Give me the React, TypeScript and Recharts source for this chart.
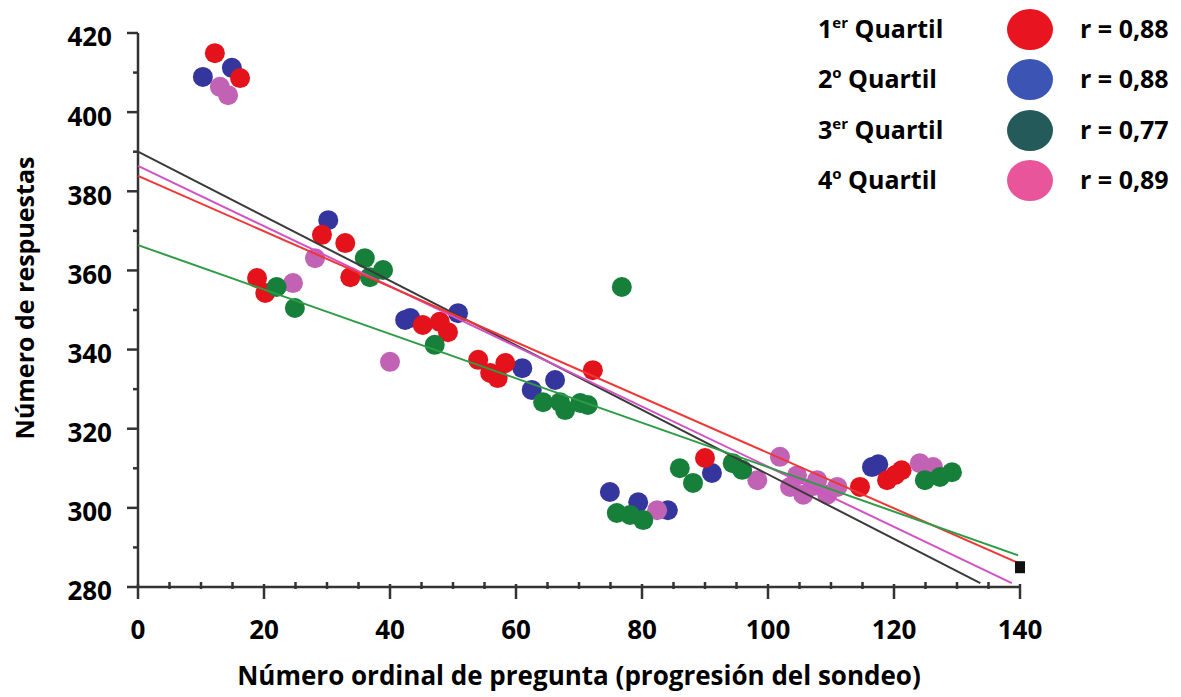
import React from 'react';
import { ScatterChart, Scatter, XAxis, YAxis } from 'recharts';

// points: [question number, responses]
const q1Points = [
  [12.2, 414.9], [16.2, 408.6], [18.9, 358.1], [20.2, 354.3], [29.2, 369], [32.9, 366.9],
  [33.7, 358.3], [45.2, 346.2], [47.9, 347], [49.2, 344.4], [54, 337.4], [55.9, 334.1],
  [57.1, 332.8], [58.3, 336.6], [72.2, 334.8], [90, 312.6], [114.6, 305.3], [118.9, 307],
  [120.2, 308.3], [121.2, 309.5],
];
const q2Points = [
  [10.3, 408.9], [14.9, 411.2], [30.2, 372.7], [42.4, 347.5], [43.2, 348], [50.8, 349.2],
  [61, 335.3], [62.5, 329.8], [66.2, 332.3], [74.9, 304], [79.4, 301.4], [84.1, 299.4],
  [91.1, 308.8], [116.5, 310.3], [117.5, 311],
];
const q3Points = [
  [22, 355.8], [24.9, 350.5], [36, 363.1], [36.8, 358.3], [38.9, 360.1], [47.1, 341.2],
  [64.3, 326.7], [67, 326.7], [67.8, 324.7], [70.2, 326.5], [71.4, 326], [76.8, 355.8],
  [76, 298.7], [78.1, 298.2], [80.2, 296.9], [86, 310], [88.1, 306.3], [94.4, 311.3],
  [95.9, 309.6], [124.9, 307], [127.3, 307.8], [129.2, 309],
];
const q4Points = [
  [13, 406.4], [14.3, 404.3], [24.6, 356.8], [28.1, 363.1], [40, 336.9], [82.4, 299.4],
  [98.3, 307], [101.9, 312.9], [103.5, 305.3], [104.6, 308.2], [105.6, 303.3], [107.2, 305.5],
  [107.8, 307], [109.4, 303.3], [111, 305.3], [124.1, 311.3], [126.2, 310.3],
];

// regression lines, start and end points
const blackFit = [[0, 390], [133.7, 281]];
const pinkFit = [[0, 386.4], [138.7, 281]];
const redFit = [[0, 383.9], [139.7, 286.1]];
const greenFit = [[0, 366.4], [139.7, 288]];
const endMarker = [[140, 285]];

const xTicks = [0, 5, 10, 15, 20, 25, 30, 35, 40, 45, 50, 55, 60, 65, 70, 75, 80, 85, 90, 95, 100, 105, 110, 115, 120, 125, 130, 135, 140];
const xMajor = [0, 20, 40, 60, 80, 100, 120, 140];
const yTicks = [280, 290, 300, 310, 320, 330, 340, 350, 360, 370, 380, 390, 400, 410, 420];
const yMajor = [280, 300, 320, 340, 360, 380, 400, 420];

const legendNums = ['1', '2', '3', '4'];
const legendSup = ['er', 'o', 'er', 'o'];
const legendR = ['0,88', '0,88', '0,77', '0,89'];
const legendColors = ['#e8141f', '#3c55b5', '#245a5a', '#e9559b'];

const toXY = (pts: number[][]) => pts.map(([x, y]) => ({ x, y }));

const FONT = '"Open Sans", sans-serif';
const AXIS = '#333';

const dot = (color: string) => (props: any) => (
  <circle cx={props.cx} cy={props.cy} r={10} fill={color} />
);
const noDot = () => <g />;

const XTick = (props: any) => {
  const { x, y, payload } = props;
  const major = xMajor.includes(payload.value);
  return (
    <g>
      <line x1={x} x2={x} y1={major ? y - 3 : y - 5} y2={major ? y + 12 : y + 2} stroke={AXIS} strokeWidth={2.5} />
      {major && (
        <text x={x} y={y + 43} dy="0.36em" textAnchor="middle" fontSize={26} fontWeight={700} fontFamily={FONT} fill="#000">
          {payload.value}
        </text>
      )}
    </g>
  );
};

const YTick = (props: any) => {
  const { x, y, payload } = props;
  const major = yMajor.includes(payload.value);
  return (
    <g>
      <line x1={major ? x - 11 : x - 5} x2={x} y1={y} y2={y} stroke={AXIS} strokeWidth={2.5} />
      {major && (
        <text x={x - 26} y={y + 4} dy="0.36em" textAnchor="end" fontSize={26} fontWeight={700} fontFamily={FONT} fill="#000">
          {payload.value}
        </text>
      )}
    </g>
  );
};

function Legend() {
  return (
    <div style={{ position: 'absolute', left: 0, top: 5, fontFamily: FONT, fontWeight: 700, fontSize: 25, color: '#000' }}>
      {legendNums.map((n, i) => (
        <div key={n} style={{ position: 'relative', height: 50.3, width: 1181 }}>
          <span style={{ position: 'absolute', left: 818, top: 6, lineHeight: '34px' }}>
            {n}
            <sup style={{ fontSize: 15, verticalAlign: 'top', lineHeight: '22px' }}>{legendSup[i]}</sup> Quartil
          </span>
          <span
            style={{
              position: 'absolute', left: 1007, top: 4, width: 46, height: 41,
              borderRadius: '50%', background: legendColors[i],
            }}
          />
          <span style={{ position: 'absolute', left: 1080, top: 6, lineHeight: '34px' }}>r = {legendR[i]}</span>
        </div>
      ))}
    </div>
  );
}

export default function App() {
  return (
    <div style={{ position: 'absolute', left: 0, top: 0, width: 1181, height: 697, background: '#fff', fontFamily: FONT }}>
      <ScatterChart width={1181} height={697} margin={{ top: 33, right: 161, bottom: 0, left: 0 }}>
        <XAxis
          type="number"
          dataKey="x"
          domain={[0, 140]}
          ticks={xTicks}
          interval={0}
          tickSize={0}
          tickMargin={0}
          tick={<XTick />}
          height={110}
          axisLine={{ stroke: AXIS, strokeWidth: 2.5 }}
          label={{
            content: () => (
              <text x={579} y={676} dy="0.36em" textAnchor="middle" fontSize={26} fontWeight={700} fontFamily={FONT} fill="#000">
                Número ordinal de pregunta (progresión del sondeo)
              </text>
            ),
          }}
        />
        <YAxis
          type="number"
          dataKey="y"
          domain={[280, 420]}
          ticks={yTicks}
          interval={0}
          tickSize={0}
          tickMargin={0}
          tick={<YTick />}
          width={138}
          axisLine={{ stroke: AXIS, strokeWidth: 2.5 }}
          label={{
            content: () => (
              <text
                x={25}
                y={298}
                dy="0.36em"
                textAnchor="middle"
                fontSize={25}
                fontWeight={700}
                fontFamily={FONT}
                fill="#000"
                transform="rotate(-90 25 298)"
              >
                Número de respuestas
              </text>
            ),
          }}
        />
        <Scatter data={toXY(q2Points)} shape={dot('#34369e')} isAnimationActive={false} />
        <Scatter data={toXY(q1Points)} shape={dot('#e3121b')} isAnimationActive={false} />
        <Scatter data={toXY(q4Points)} shape={dot('#c262b4')} isAnimationActive={false} />
        <Scatter data={toXY(q3Points)} shape={dot('#16803a')} isAnimationActive={false} />
        <Scatter data={toXY(blackFit)} line={{ stroke: '#3a3a3a', strokeWidth: 2 }} shape={noDot} isAnimationActive={false} />
        <Scatter data={toXY(pinkFit)} line={{ stroke: '#d152c4', strokeWidth: 2 }} shape={noDot} isAnimationActive={false} />
        <Scatter data={toXY(redFit)} line={{ stroke: '#f03535', strokeWidth: 2 }} shape={noDot} isAnimationActive={false} />
        <Scatter data={toXY(greenFit)} line={{ stroke: '#2e9c45', strokeWidth: 2 }} shape={noDot} isAnimationActive={false} />
        <Scatter
          data={toXY(endMarker)}
          shape={(p: any) => <rect x={p.cx - 5} y={p.cy - 6} width={10} height={12} fill="#111" />}
          isAnimationActive={false}
        />
      </ScatterChart>
      <Legend />
    </div>
  );
}
